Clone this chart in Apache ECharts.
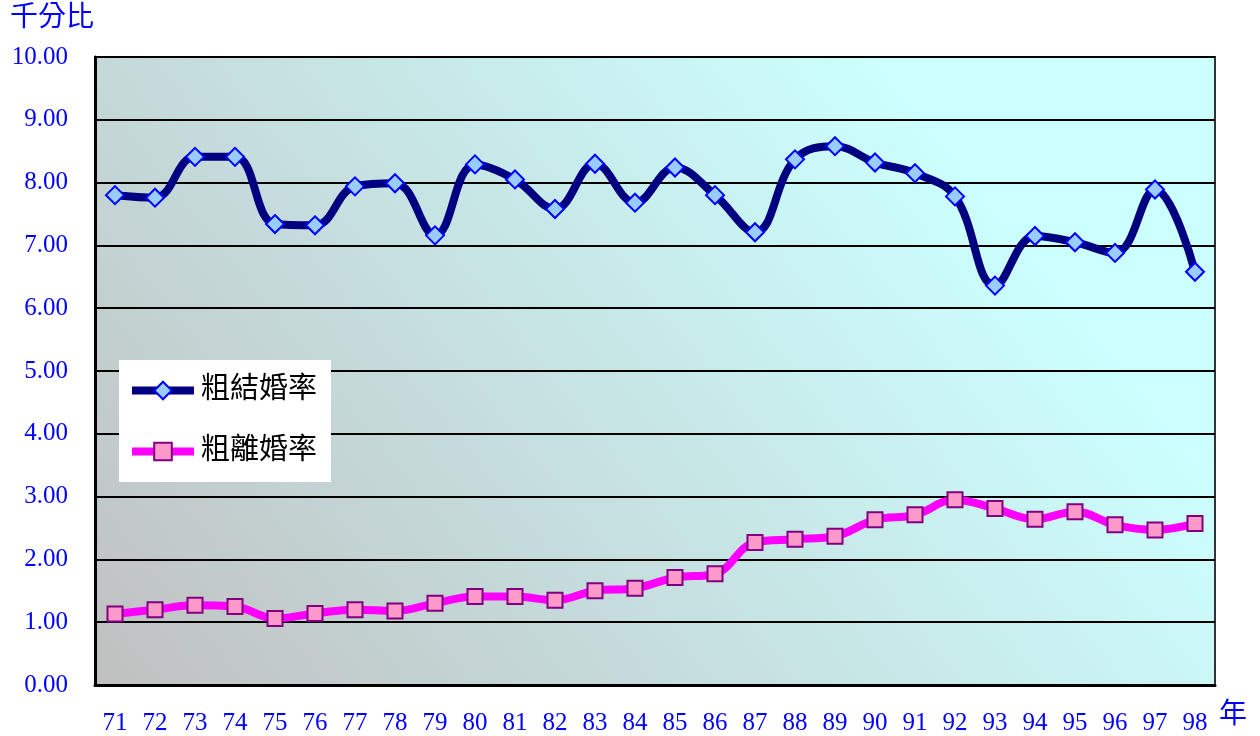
<!DOCTYPE html>
<html>
<head>
<meta charset="utf-8">
<script src="https://cdn.jsdelivr.net/npm/echarts@6/dist/echarts.min.js"></script>
<style>
  html, body { margin: 0; padding: 0; background: #fff; }
  #chartLine { width: 1260px; height: 736px; }
</style>
</head>
<body>
<div id="chartLine"></div>
<script>
// 年度(民國)
var years = ['71', '72', '73', '74', '75', '76', '77', '78', '79', '80', '81', '82', '83', '84',
  '85', '86', '87', '88', '89', '90', '91', '92', '93', '94', '95', '96', '97', '98']
// 粗結婚率 (千分比)
var marriageRate = [7.80, 7.76, 8.41, 8.41, 7.34, 7.32, 7.94, 7.99, 7.16, 8.29, 8.05, 7.58, 8.30, 7.68,
  8.24, 7.80, 7.21, 8.37, 8.58, 8.32, 8.15, 7.78, 6.36, 7.15, 7.05, 6.88, 7.89, 6.58]
// 粗離婚率 (千分比)
var divorceRate = [1.13, 1.20, 1.27, 1.25, 1.06, 1.14, 1.20, 1.18, 1.30, 1.41, 1.41, 1.35, 1.50, 1.54,
  1.71, 1.77, 2.27, 2.32, 2.37, 2.63, 2.71, 2.95, 2.81, 2.64, 2.76, 2.55, 2.47, 2.57]

var serif = '"Liberation Serif", "Noto Sans CJK TC", serif'
var chartLine = echarts.init(document.getElementById('chartLine'))
var option = {
  animation: false,
  title: {
    text: '歷年粗結婚率與粗離婚率',
    left: 'center',
    top: -35,
    textStyle: { color: '#0000ff', fontSize: 36, fontWeight: 'normal', fontFamily: serif }
  },
  legend: {
    left: 119,
    top: 360,
    orient: 'vertical',
    backgroundColor: '#ffffff',
    padding: [16, 14, 16, 9],
    itemWidth: 62,
    itemHeight: 22,
    itemGap: 32,
    lineStyle: { width: 8 },
    textStyle: { color: '#000', fontSize: 29, fontFamily: serif, padding: [0, 0, 0, 2] },
    data: ['粗結婚率', '粗離婚率']
  },
  grid: {
    left: 95,
    right: 45,
    top: 57,
    bottom: 48,
    show: true,
    borderColor: '#333',
    borderWidth: 2,
    backgroundColor: new echarts.graphic.LinearGradient(0, 1, 0.7, 0, [
      { offset: 0, color: '#c0c0c0' },
      { offset: 1, color: '#ccffff' }
    ])
  },
  xAxis: {
    type: 'category',
    name: '年',
    nameLocation: 'end',
    nameGap: 4,
    nameTextStyle: { color: '#0000ff', fontSize: 28, fontFamily: serif, verticalAlign: 'top', padding: [17, 0, 0, 0] },
    data: years,
    boundaryGap: true,
    axisLine: { lineStyle: { color: '#000', width: 3 } },
    axisTick: { inside: true, length: 8, lineStyle: { color: '#000', width: 2 } },
    axisLabel: { color: '#0000ff', fontSize: 25, fontFamily: serif, margin: 26 },
    splitLine: { show: false }
  },
  yAxis: {
    type: 'value',
    min: 0,
    max: 10,
    interval: 1,
    name: '千分比',
    nameLocation: 'end',
    nameGap: 24,
    nameTextStyle: { color: '#0000ff', fontSize: 28, fontFamily: serif, align: 'left', padding: [0, 0, 0, -85] },
    axisLine: { show: true, lineStyle: { color: '#000', width: 3 } },
    axisTick: { show: false },
    axisLabel: {
      color: '#0000ff', fontSize: 25, fontFamily: serif, margin: 27,
      formatter: function (v) { return v.toFixed(2) }
    },
    splitLine: { show: true, lineStyle: { color: '#000', width: 2 } }
  },
  series: [
    {
      name: '粗結婚率',
      type: 'line',
      data: marriageRate,
      smooth: 0.4,
      symbol: 'diamond',
      symbolSize: 18,
      lineStyle: { color: '#000080', width: 8 },
      itemStyle: { color: '#99ccff', borderColor: '#0000ff', borderWidth: 2 },
      z: 3
    },
    {
      name: '粗離婚率',
      type: 'line',
      data: divorceRate,
      smooth: 0.4,
      symbol: 'rect',
      symbolSize: 15,
      lineStyle: { color: '#ff00ff', width: 8 },
      itemStyle: { color: '#ff99cc', borderColor: '#800080', borderWidth: 2 },
      z: 3
    }
  ]
}
chartLine.setOption(option)
</script>
</body>
</html>
